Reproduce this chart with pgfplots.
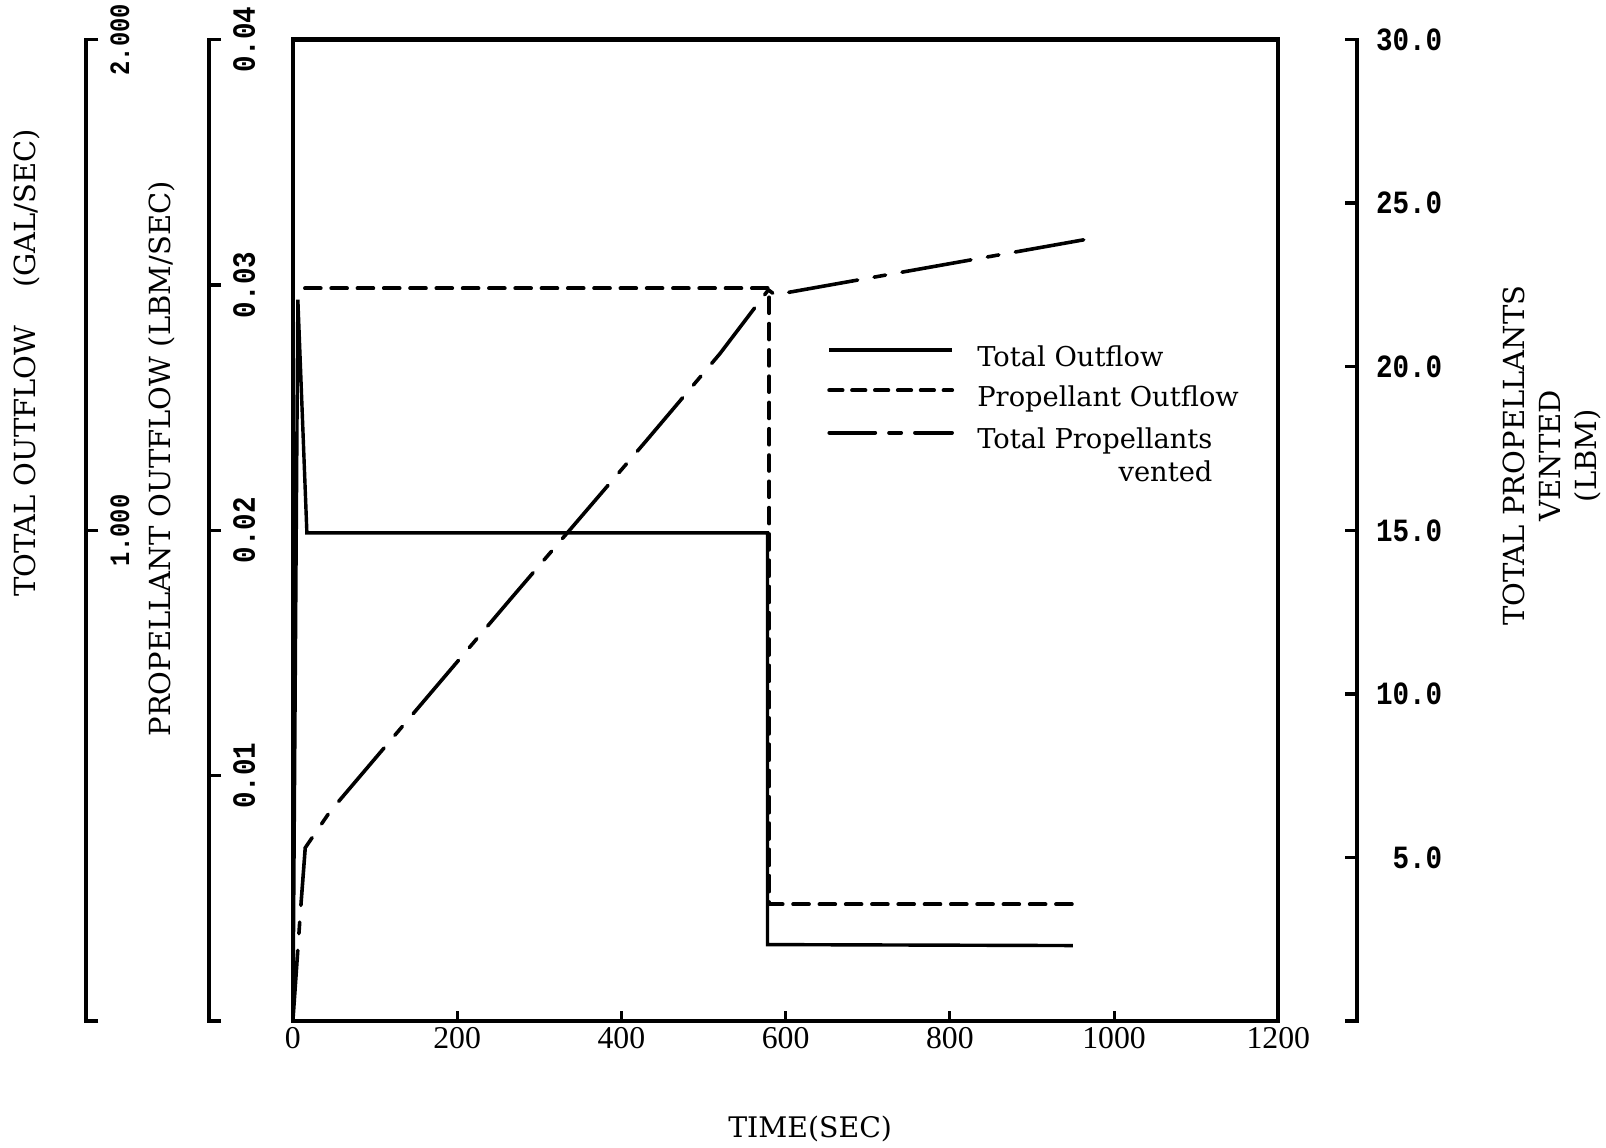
\documentclass[border=0pt]{standalone}
\usepackage{fontspec}
\setmainfont{DejaVu Serif}
\newfontfamily\monof[FakeStretch=0.85]{Liberation Mono}
\newfontfamily\timesf{Liberation Serif}
\usepackage{pgfplots}
\pgfplotsset{compat=1.18}

\pgfplotsset{
  boxsize/.style={scale only axis, width=288.6pt, height=287.5pt, at={(0pt,0pt)}, anchor=south west},
  miniaxis/.style={scale only axis, width=1pt, height=287.5pt, anchor=south east,
    xmin=0, xmax=1, hide x axis, axis y line*=right, scaled y ticks=false,
    axis line style={line width=1.2pt, line cap=rect},
    every tick/.style={black, line width=1pt},
    major tick length=3.6pt,
    yticklabel style={font=\monof\bfseries\fontsize{9.5}{10}\selectfont}},
}
\tikzset{
  propdash/.style={line width=1.15pt, line cap=round, dash pattern=on 4.6pt off 3.1pt},
  ventdash/.style={line width=1.05pt, line cap=round, dash pattern=on 20.5pt off 4.9pt on 3.4pt off 4.9pt},
  totsolid/.style={line width=1pt, line join=miter},
}

\begin{document}
\begin{tikzpicture}
\useasboundingbox (-85.8pt,-36.9pt) rectangle (384.6pt,299.1pt);

% ---- main axis: propellant outflow (LBM/SEC) vs time
\begin{axis}[boxsize,
  xmin=0, xmax=1200, ymin=0, ymax=0.04,
  xtick={0,200,400,600,800,1000,1200},
  xticklabels={0,200,400,600,800,1000,1200},
  xtick pos=bottom, tick align=inside, ytick=\empty,
  major tick length=3pt,
  axis line style={line width=1.3pt, line cap=rect},
  every tick/.style={black, line width=0.9pt},
  xticklabel style={font=\timesf\fontsize{9.3}{10}\selectfont, inner sep=1.5pt},
  legend style={at={(rel axis cs:0.5416,0.692)}, anchor=north west, draw=none, fill=none,
    inner sep=0pt, row sep=2.6pt, font=\fontsize{8}{9.6}\selectfont,
    nodes={inner sep=0.8pt, anchor=base west}},
  legend cell align=left,
  legend image code/.code={\draw[#1] (0pt,0.9ex) -- (36pt,0.9ex); \path (42pt,0.9ex);},
]
\addlegendimage{totsolid}
\addlegendentry{Total Outflow}
\addlegendimage{propdash, dash pattern=on 3.9pt off 2.8pt}
\addlegendentry{Propellant Outflow}
\addlegendimage{ventdash, dash pattern=on 13.5pt off 4pt on 3.6pt off 4pt}
\addlegendentry{\begin{tabular}[t]{@{}r@{}}Total Propellants\\vented\end{tabular}}

% Propellant outflow (LBM/SEC)
\addplot[propdash, forget plot] coordinates {
  (14.7,0.02986) (580,0.02986) (580,0.00476) (956,0.00476)
};
\end{axis}

% ---- overlay: total outflow (GAL/SEC)
\begin{axis}[boxsize, hide axis, xmin=0, xmax=1200, ymin=0, ymax=2]
\addplot[totsolid] coordinates {
  (0,0) (6,1.47) (17,0.995) (578,0.995) (578,0.156) (950,0.154)
};
\end{axis}

% ---- overlay: total propellants vented (LBM)
\begin{axis}[boxsize, hide axis, xmin=0, xmax=1200, ymin=0, ymax=30]
\addplot[ventdash] coordinates {
  (0,0.03) (6,2.2) (9,3.3) (15,5.3) (45,6.4) (265,12.9) (429,17.7)
  (520,20.4) (579,22.35) (587,22.2) (963,23.88)
};
\end{axis}

% ---- offset scale: total outflow (GAL/SEC)
\begin{axis}[miniaxis, at={(-60.6pt,0pt)}, ymin=0, ymax=2,
  ytick={0,1,2}, yticklabels={,1.000,2.000}, tick align=outside,
  yticklabel style={rotate=90, anchor=north, font=\monof\bfseries\fontsize{8.2}{10}\selectfont}]
\end{axis}

% ---- offset scale: propellant outflow (LBM/SEC)
\begin{axis}[miniaxis, at={(-24.6pt,0pt)}, ymin=0, ymax=0.04,
  ytick={0,0.01,0.02,0.03,0.04}, yticklabels={,0.01,0.02,0.03,0.04}, tick align=outside,
  yticklabel style={rotate=90, anchor=north}]
\end{axis}

% ---- right scale: total propellants vented (LBM)
\begin{axis}[miniaxis, at={(311.7pt,0pt)}, ymin=0, ymax=30,
  ytick={0,5,10,15,20,25,30},
  yticklabels={,\phantom{0}5.0,10.0,15.0,20.0,25.0,30.0}, tick align=inside,
  yticklabel style={anchor=west, xshift=2pt}]
\end{axis}

% ---- axis titles
\node[rotate=90, font=\fontsize{8.5}{10}\selectfont] at (-78pt,192.9pt)
  {TOTAL OUTFLOW\hspace{11pt}(GAL/SEC)};
\node[rotate=90, font=\fontsize{8.5}{10}\selectfont] at (-38.4pt,164.7pt)
  {PROPELLANT OUTFLOW (LBM/SEC)};
\node[font=\fontsize{8.3}{10}\selectfont] at (151.5pt,-31.5pt) {TIME(SEC)};
\node[rotate=90, align=center, font=\fontsize{8.5}{10.5}\selectfont] at (368.7pt,165.6pt)
  {TOTAL PROPELLANTS\\VENTED\\(LBM)};
\end{tikzpicture}
\end{document}
